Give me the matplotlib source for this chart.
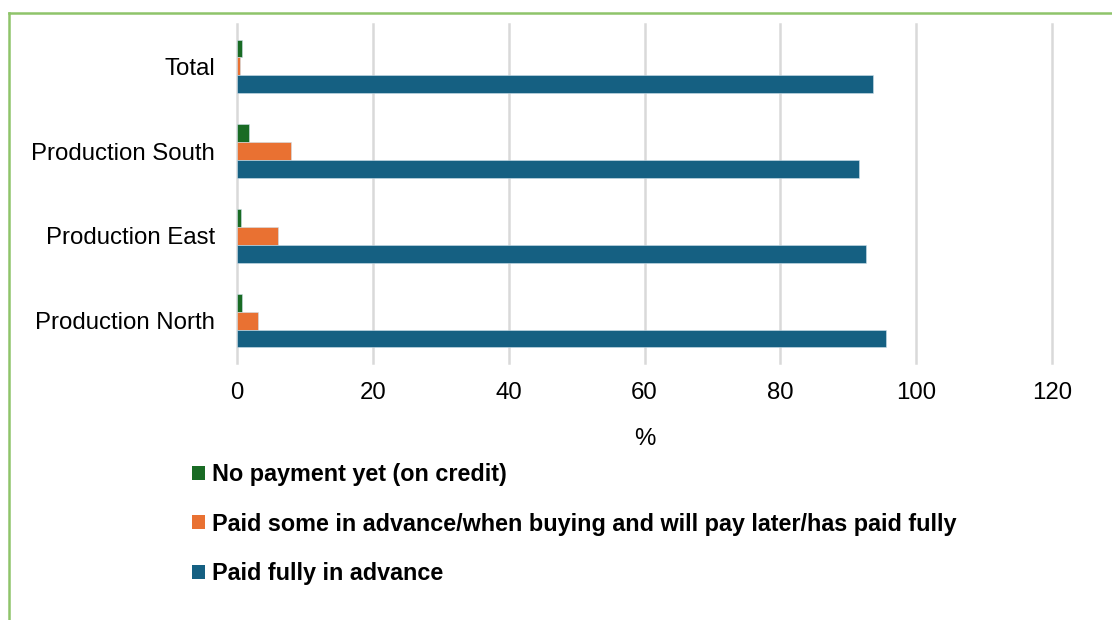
import matplotlib.pyplot as plt
import numpy as np
from matplotlib.lines import Line2D
from matplotlib.patches import Patch

categories = ["Total", "Production South", "Production East", "Production North"]
series_names = [
    "No payment yet (on credit)",
    "Paid some in advance/when buying and will pay later/has paid fully",
    "Paid fully in advance",
]
no_payment = [0.7, 1.7, 0.6, 0.7]
paid_some = [0.5, 8.0, 6.1, 3.1]
paid_fully = [93.6, 91.6, 92.6, 95.5]
x_ticks = [0, 20, 40, 60, 80, 100, 120]

COLORS = ["#196B24", "#E97132", "#156082"]

plt.rcParams["font.family"] = ["Liberation Sans", "DejaVu Sans"]

W, H = 1112, 620
fig = plt.figure(figsize=(W / 100, H / 100), dpi=100)
ax = fig.add_axes([237 / W, 1 - 363 / H, (1052 - 237) / W, (363 - 24) / H])

y = np.arange(len(categories))
h = 0.21
for k, (vals, color) in enumerate(zip([no_payment, paid_some, paid_fully], COLORS)):
    ax.barh(y + (k - 1) * h, vals, height=h, color=color,
            edgecolor="#cfe0ea", linewidth=0.4, zorder=3)

ax.set_xlim(0, 120)
ax.set_ylim(len(categories) - 0.5, -0.5)
ax.set_yticks(y)
ax.set_yticklabels(categories, fontsize=17.3)
ax.set_xticks(x_ticks)
ax.tick_params(axis="x", labelsize=17.3, length=0, pad=14)
ax.tick_params(axis="y", length=0, pad=16)
ax.grid(axis="x", color="#d9d9d9", linewidth=1.8, zorder=0)
for gl in ax.get_xgridlines():
    gl.set_clip_on(False)
for s in ax.spines.values():
    s.set_visible(False)
ax.set_xlabel("%", fontsize=17.3, labelpad=17)

handles = [Patch(facecolor=c, edgecolor="none") for c in COLORS]
fig.legend(handles, series_names, loc="upper left",
           bbox_to_anchor=(183 / W, 1 - 454 / H), frameon=False,
           prop={"weight": "bold", "size": 16.8},
           handlelength=0.55, handleheight=0.55, handletextpad=0.3,
           labelspacing=1.13, borderaxespad=0)

# green frame
fig.add_artist(Line2D([9 / W, 1], [1 - 12.5 / H, 1 - 12.5 / H], color="#8fc46a", lw=1.8))
fig.add_artist(Line2D([9 / W, 9 / W], [0, 1 - 12.5 / H], color="#8fc46a", lw=1.8))

fig.savefig("out.png", dpi=100, facecolor="white")
